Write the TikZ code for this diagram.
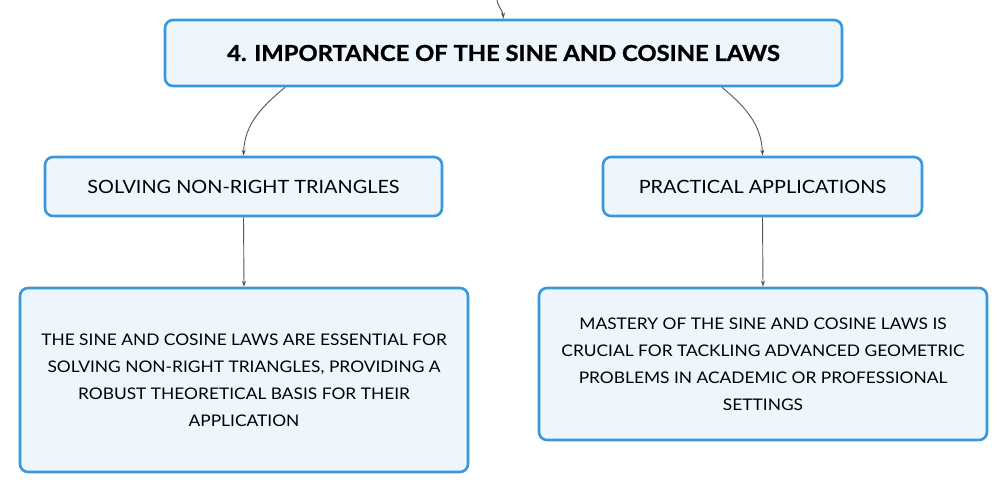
\documentclass[tikz,border=0pt]{standalone}
\usepackage{fontspec}
\setmainfont{Lato}[FakeStretch=1.085]
\newfontfamily\titlefont{Lato}[FakeStretch=1.08, UprightFont=*-Bold, FakeBold=1.2]
\usetikzlibrary{arrows.meta}
\definecolor{boxborder}{HTML}{3A97DC}
\definecolor{boxfill}{HTML}{EEF6FD}
\definecolor{linkgray}{HTML}{555555}
\tikzset{
  box/.style={draw=boxborder, line width=2.6pt, fill=boxfill, rounded corners=8pt, align=center, inner sep=0pt, text=black},
  link/.style={draw=linkgray, line width=0.9pt, -{Stealth[length=6pt,width=4pt]}},
}
\begin{document}
\begin{tikzpicture}[x=1pt,y=-1pt]
\useasboundingbox (0,0) rectangle (1008,494);
\node[box, minimum width=677pt, minimum height=66pt, font=\fontsize{22}{26}\titlefont] (title) at (503.5,53) {4. IMPORTANCE OF THE SINE AND COSINE LAWS};
\node[box, minimum width=397pt, minimum height=59pt, font=\fontsize{18.3}{22}\selectfont] (lm) at (243.5,186.5) {SOLVING NON-RIGHT TRIANGLES};
\node[box, minimum width=319pt, minimum height=59pt, font=\fontsize{18.3}{22}\selectfont] (rm) at (762.5,186.5) {PRACTICAL APPLICATIONS};
\node[box, minimum width=448pt, minimum height=184pt, font=\fontsize{16}{27}\selectfont] (lb) at (244,380) {THE SINE AND COSINE LAWS ARE ESSENTIAL FOR\\SOLVING NON-RIGHT TRIANGLES, PROVIDING A\\ROBUST THEORETICAL BASIS FOR THEIR\\APPLICATION};
\node[box, minimum width=448pt, minimum height=152pt, font=\fontsize{16}{27}\selectfont] (rb) at (763,364) {MASTERY OF THE SINE AND COSINE LAWS IS\\CRUCIAL FOR TACKLING ADVANCED GEOMETRIC\\PROBLEMS IN ACADEMIC OR PROFESSIONAL\\SETTINGS};
\coordinate (top) at (497,0);
\draw[link] (top) to[out=-80,in=95] (title.north);
\draw[link] ([xshift=-218.5pt]title.south) to[out=-140,in=88] (lm.north);
\draw[link] ([xshift=218.5pt]title.south) to[out=-40,in=92] (rm.north);
\draw[link] (lm.south) -- (lb.north);
\draw[link] (rm.south) -- (rb.north);
\end{tikzpicture}
\end{document}
